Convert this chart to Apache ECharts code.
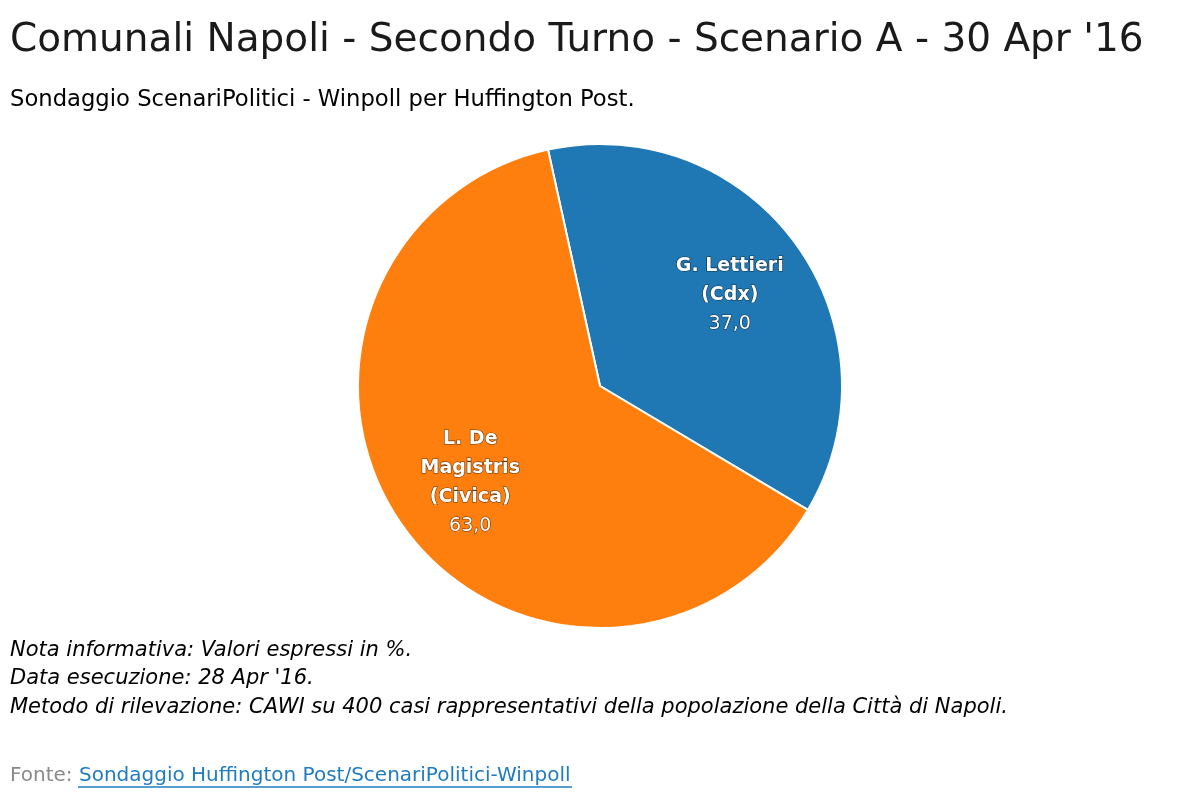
<!DOCTYPE html>
<html>
<head>
<meta charset="utf-8">
<script src="https://cdn.jsdelivr.net/npm/echarts@6/dist/echarts.min.js"></script>
<style>
html,body{margin:0;padding:0;background:#fff;}
#chart{width:1200px;height:800px;}
</style>
</head>
<body>
<div id="chart"></div>
<script>
const categories = ['G. Lettieri\n(Cdx)', 'L. De\nMagistris\n(Civica)'];
const values = [37.0, 63.0];
const colors = ['#1f77b4', '#ff7f0e'];
const titleText = "Comunali Napoli - Secondo Turno - Scenario A - 30 Apr '16";
const subtitleText = 'Sondaggio ScenariPolitici - Winpoll per Huffington Post.';
const notes = [
  'Nota informativa: Valori espressi in %.',
  "Data esecuzione: 28 Apr '16.",
  'Metodo di rilevazione: CAWI su 400 casi rappresentativi della popolazione della Città di Napoli.'
];
const sourceLabel = 'Fonte:';
const sourceText = 'Sondaggio Huffington Post/ScenariPolitici-Winpoll';

const FONT = '"DejaVu Sans", "Liberation Sans", Arial, sans-serif';
const fmt = v => v.toFixed(1).replace('.', ',');

const chart = echarts.init(document.getElementById('chart'));
const data = categories.map((c, i) => ({ name: c, value: values[i], itemStyle: { color: colors[i] } }));

chart.setOption({
  animation: false,
  backgroundColor: '#fff',
  title: [
    { text: titleText, left: 10, top: 21, padding: 0,
      textStyle: { fontFamily: FONT, fontSize: 39, fontWeight: 'normal', color: '#1a1a1a' } },
    { text: subtitleText, left: 10, top: 89, padding: 0,
      textStyle: { fontFamily: FONT, fontSize: 22.7, fontWeight: 'normal', color: '#000' } },
    { text: notes.join('\n'), left: 10, top: 636, padding: 0,
      textStyle: { fontFamily: FONT, fontSize: 21, fontStyle: 'italic', fontWeight: 'normal', color: '#000', lineHeight: 28.5 } },
    { text: '{g|' + sourceLabel + '} {l|' + sourceText + '}', left: 10, top: 766, padding: 0,
      textStyle: { fontFamily: FONT, fontSize: 20, fontWeight: 'normal',
        rich: {
          g: { fontFamily: FONT, fontSize: 20, fontWeight: 'normal', color: '#8a8a8a' },
          l: { fontFamily: FONT, fontSize: 20, fontWeight: 'normal', color: '#1f7cc1' }
        } } }
  ],
  graphic: [
    { type: 'line', shape: { x1: 78, y1: 787, x2: 572, y2: 787 }, style: { stroke: '#1f7cc1', lineWidth: 1.5 } }
  ],
  series: [
    {
      type: 'pie',
      center: [600, 386],
      radius: 242,
      startAngle: 102.4,
      clockwise: true,
      data: data,
      itemStyle: { borderColor: '#fff', borderWidth: 2 },
      label: { show: false },
      labelLine: { show: false },
      silent: true
    },
    {
      type: 'pie',
      center: [600, 386],
      radius: [72, 242],
      startAngle: 102.4,
      clockwise: true,
      silent: true,
      data: categories.map((c, i) => ({ name: c, value: values[i] })),
      itemStyle: { color: 'rgba(0,0,0,0)', borderWidth: 0 },
      label: {
        show: true,
        position: 'inside',
        padding: [5, 0, 0, 0],
        formatter: p => '{b|' + p.name + '}\n{v|' + fmt(p.value) + '}',
        rich: {
          b: { fontFamily: FONT, fontSize: 19, fontWeight: 'bold', color: '#fff', lineHeight: 29,
               textBorderColor: 'rgba(0,0,0,0.6)', textBorderWidth: 1.2 },
          v: { fontFamily: FONT, fontSize: 19, fontWeight: 'normal', color: '#fff', lineHeight: 29,
               textBorderColor: 'rgba(0,0,0,0.6)', textBorderWidth: 1.2 }
        }
      },
      labelLine: { show: false }
    }
  ]
});
</script>
</body>
</html>
